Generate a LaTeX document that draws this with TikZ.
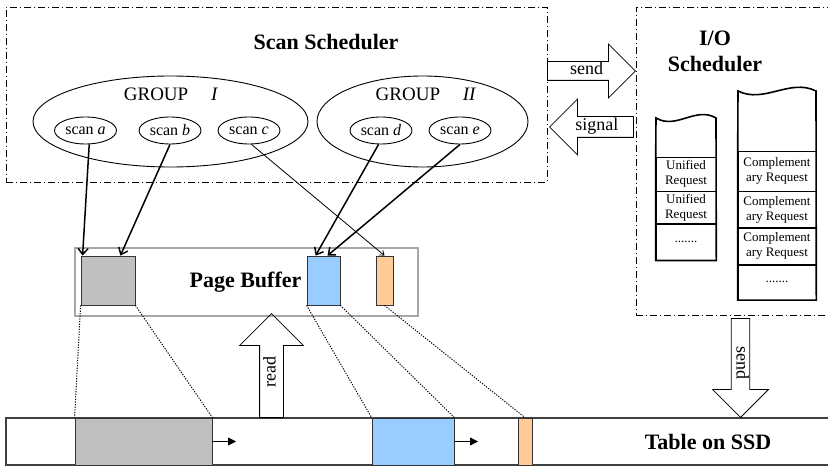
\documentclass[tikz,border=0pt]{standalone}
\usepackage{fontspec}
\setmainfont{Liberation Serif}
\usepackage{tikz}
\usetikzlibrary{arrows.meta,positioning,shapes.geometric,shapes.arrows}
\definecolor{bufgray}{HTML}{C0C0C0}
\definecolor{bufblue}{HTML}{99CCFF}
\definecolor{buforange}{HTML}{FFCC99}
\definecolor{framegray}{HTML}{A6A6A6}

\begin{document}
\begin{tikzpicture}[x=1pt, y=-1pt,
  >={Straight Barb[length=6pt,width=10pt]},
  sched/.style={draw, line width=0.8pt, dash pattern=on 7pt off 3pt on 1pt off 3pt,
                inner sep=0pt},
  title/.style={font=\fontsize{22}{26}\selectfont\bfseries, align=center, inner sep=0pt},
  grp/.style={draw, ellipse, line width=0.9pt, minimum height=91pt, inner sep=0pt},
  grplbl/.style={font=\fontsize{19}{22}\selectfont, inner sep=0pt},
  scan/.style={draw, ellipse, line width=0.9pt, minimum width=62pt, minimum height=27pt,
               inner sep=0pt, font=\fontsize{16}{18}\selectfont},
  buf/.style={draw=black!80, line width=0.8pt, minimum height=49pt, inner sep=0pt},
  seg/.style={draw=black!80, line width=0.8pt, minimum height=47pt, inner sep=0pt},
  barrow/.style={draw, single arrow, line width=0.8pt, single arrow head extend=17.5pt,
                 inner xsep=0pt, inner ysep=2pt, text height=11pt, text depth=3pt,
                 font=\fontsize{18}{20}\selectfont},
  cell/.style={draw, line width=0.6pt, inner sep=0pt, align=center,
               font=\fontsize{13}{15}\selectfont},
  e/.style={->, line width=1.5pt},
  d/.style={line width=1pt, dash pattern=on 1.2pt off 1.4pt}
]
  \clip (0,0) rectangle (828,468);
  % scan scheduler
  \node[sched, minimum width=541pt, minimum height=175pt] (ss) at (276.5,94.5) {};
  \node[title] (sstitle) at (326,42) {Scan Scheduler};
  \node[grp, minimum width=275pt] (g1) at (170.5,121.5) {};
  \node[grp, minimum width=211pt] (g2) at (422.5,121.5) {};
  \node[grplbl] (g1lbl) at (171,94) {GROUP\hspace{1.2em}\textit{I}};
  \node[grplbl] (g2lbl) at (426,94) {GROUP\hspace{1.2em}\textit{II}};
  \node[scan] (sa) at (85.5,130.5) {scan \textit{a}};
  \node[scan] (sb) at (170,130.5) {scan \textit{b}};
  \node[scan] (sc) at (249,130.5) {scan \textit{c}};
  \node[scan] (sd) at (381,130.5) {scan \textit{d}};
  \node[scan] (se) at (460,130.5) {scan \textit{e}};
  % I/O scheduler
  \node[sched, minimum width=204pt, minimum height=308pt] (io) at (738,161) {};
  \node[title] (iotitle) at (715,51.5) {I/O\\Scheduler};
  \node[cell, minimum width=60pt, minimum height=34pt] (u1) at (686,174) {Unified\\Request};
  \node[cell, minimum width=60pt, minimum height=32pt, below=0pt of u1] (u2) {Unified\\Request};
  \node[cell, minimum width=60pt, minimum height=36pt, below=0pt of u2] (u3) {.......};
  \node[cell, minimum width=78pt, minimum height=40pt] (c1) at (777,171) {Complement\\ary Request};
  \node[cell, minimum width=78pt, minimum height=36pt, below=0pt of c1] (c2) {Complement\\ary Request};
  \node[cell, minimum width=78pt, minimum height=36pt, below=0pt of c2] (c3) {Complement\\ary Request};
  \node[cell, minimum width=78pt, minimum height=35pt, below=0pt of c3] (c4) {.......};
  \draw[line width=1.6pt] (u1.north west) -- (656,118)
    .. controls (676,130) and (696,106) .. (716,118) -- (u3.south east) -- (u3.south west) -- cycle;
  \draw[line width=1.6pt] (c1.north west) -- (738,91)
    .. controls (764,104) and (790,78) .. (816,91) -- (c4.south east) -- (c4.south west) -- cycle;
  % page buffer
  \node[draw=framegray, line width=1.2pt, minimum width=343pt, minimum height=68pt,
        inner sep=0pt] (pb) at (246.5,282) {};
  \node[title] (pbtitle) at (245.5,282) {Page Buffer};
  \node[buf, fill=bufgray, minimum width=54pt] (gb) at (108,280.5) {};
  \node[buf, fill=bufblue, minimum width=33pt] (bb) at (323.5,280.5) {};
  \node[buf, fill=buforange, minimum width=17pt] (ob) at (384.5,280.5) {};
  % table on SSD
  \node[draw=black!75, line width=1.2pt, minimum width=834pt, minimum height=47pt,
        inner sep=0pt] (tbl) at (423,441.5) {};
  \node[seg, fill=bufgray, minimum width=137pt] (tg) at (143.5,441.5) {};
  \node[seg, fill=bufblue, minimum width=82pt] (tb) at (413,441.5) {};
  \node[seg, fill=buforange, minimum width=14pt] (tor) at (525,441.5) {};
  \node[title] (tbltitle) at (708,442) {Table on SSD};
  \coordinate (tgend) at (236,441.5);
  \coordinate (tbend) at (478,441.5);
  \draw[-{Triangle[length=8pt,width=8pt]}, line width=0.8pt] (tg.east) -- (tgend);
  \draw[-{Triangle[length=8pt,width=8pt]}, line width=0.8pt] (tb.east) -- (tbend);
  % block arrows
  \node[barrow, minimum height=88pt, anchor=tail] (sendr) at (547,71) {send};
  \node[barrow, shape border rotate=180, minimum height=84pt, inner ysep=3pt,
        anchor=tip] (sig) at (549,127) {signal};
  \node[barrow, rotate=90, minimum height=104pt, single arrow head extend=20pt,
        inner ysep=4.5pt, anchor=tail] (rd) at (271.5,418) {read};
  \node[barrow, rotate=-90, minimum height=99pt, single arrow head extend=18.7pt,
        inner ysep=1.8pt, anchor=tip] (sendd) at (740.5,418) {send};
  % scans to pages
  \draw[e] (sa.-75) -- ([xshift=2pt]gb.north west);
  \draw[e] (sb.south) -- ([xshift=-15pt]gb.north east);
  \draw[e] (sd.-100) -- ([xshift=9pt]bb.north west);
  \draw[e] (se.south) -- ([xshift=4pt]bb.north);
  \draw[->, line width=0.8pt, >={Straight Barb[length=4pt,width=6pt]}] (sc.-80) -- (ob.north);
  % pages to table
  \draw[d] (gb.south west) -- (tg.north west);
  \draw[d] (gb.south east) -- (tg.north east);
  \draw[d] (bb.south west) -- (tb.north west);
  \draw[d] (bb.south east) -- (tb.north east);
  \draw[d] (ob.south) -- (tor.north);
\end{tikzpicture}
\end{document}
